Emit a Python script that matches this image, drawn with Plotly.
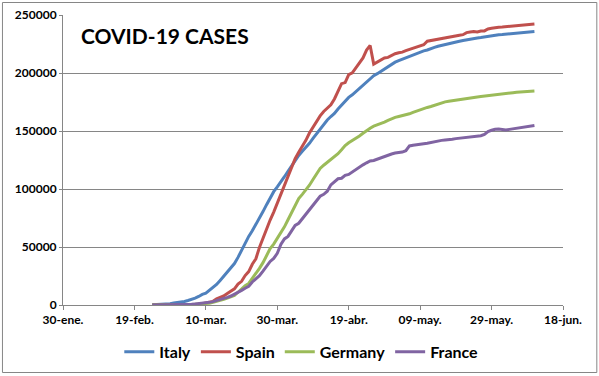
import pandas as pd
import plotly.graph_objects as go

# ---- data -------------------------------------------------------------
dates = pd.date_range("2020-02-24", "2020-06-10", freq="D")

italy = [229, 322, 400, 650, 888, 1128,
         1694, 2036, 2502, 3089, 3858, 4636, 5883, 7375, 9172, 10149, 12462, 15113, 17660, 21157,
         24747, 27980, 31506, 35713, 41035, 47021, 53578, 59138, 63927, 69176, 74386, 80539, 86498,
         92472, 97689, 101739, 105792,
         110574, 115242, 119827, 124632, 128948, 132547, 135586, 139422, 143626, 147577, 152271,
         156363, 159516, 162488, 165155, 168941, 172434, 175925, 178972, 181228, 183957, 187327,
         189973, 192994, 195351, 197675, 199414, 201505, 203591, 205463,
         207428, 209328, 210717, 211938, 213013, 214457, 215858, 217185, 218268, 219070, 219814,
         221216, 222104, 223096, 223885, 224760, 225435, 225886, 226699, 227364, 228006, 228658,
         229327, 229858, 230158, 230555, 231139, 231732, 232248, 232664, 233019,
         233197, 233515, 233836, 234013, 234531, 234801, 234998, 235278, 235561, 235763]

spain = [2, 6, 13, 15, 32, 45,
         84, 120, 165, 222, 259, 400, 500, 673, 1073, 1695, 2277, 3146, 5232, 6391, 7798, 9942,
         11748, 13910, 17963, 20410, 25374, 28768, 35136, 39885, 49515, 57786, 65719, 73235, 80110,
         87956, 95923,
         104118, 112065, 119199, 126168, 131646, 136675, 141942, 148220, 153222, 158273, 163027,
         166831, 170099, 172541, 177644, 184948, 190839, 191726, 198674, 200210, 204178, 208389,
         213024, 219764, 223759, 207634, 209465, 210773, 212917, 213435,
         215216, 216582, 217466, 218011, 219329, 220325, 221447, 222857, 223578, 224350, 227436,
         228030, 228691, 229540, 230183, 230698, 230698, 231606, 232037, 232555, 233037, 234824,
         235290, 235772, 235400, 236259, 236259, 237906, 238564, 239228, 239479,
         239638, 239932, 240326, 240660, 240978, 241310, 241550, 241717, 241966, 242280]

germany = [16, 18, 21, 26, 53, 66,
           117, 150, 188, 240, 349, 534, 684, 847, 1112, 1296, 1567, 2369, 3062, 3795, 4838, 6012,
           7156, 8198, 10999, 13957, 16662, 18610, 22672, 27436, 31554, 36508, 42288, 48582, 52547,
           57298, 61913,
           67366, 73522, 79696, 85778, 91714, 95391, 99225, 103228, 108202, 113525, 117658, 120479,
           123016, 125098, 127584, 130450, 133830, 137439, 139897, 141672, 143457, 145694, 148046,
           150383, 152438, 154175, 155193, 156337, 157641, 159119,
           160758, 161703, 162496, 163160, 163860, 164807, 166091, 167300, 168551, 169400, 170300,
           171100, 172200, 173200, 174300, 175100, 175700, 176200, 176700, 177300, 177900, 178300,
           178700, 179100, 179400, 179700, 180000, 180400, 180900, 181400, 181700,
           182000, 182300, 182600, 183000, 183400, 183700, 183900, 184100, 184300, 184500]

france = [12, 12, 18, 38, 57, 100,
          130, 191, 212, 285, 423, 653, 949, 1126, 1412, 1784, 2281, 2876, 3661, 4499, 5423, 6633,
          7730, 9134, 10995, 12612, 14459, 16018, 19856, 22302, 25233, 29155, 32964, 37575, 40174,
          44550, 52128,
          56989, 59105, 64338, 68605, 70478, 74390, 78167, 82048, 86334, 90276, 93790, 95403, 98076,
          103573, 106206, 108847, 109252, 111821, 112606, 114657, 117324, 119151, 120804, 122577,
          124114, 124575, 125770, 126835, 128442, 129581,
          130185, 130979, 131287, 131863, 132967, 137150, 137779, 138421, 138854, 139063, 139519,
          140227, 140734, 141356, 141919, 142291, 142411, 142903, 143427, 143845, 144163, 144556,
          144921, 145279, 145555, 145900, 147000, 149500, 150600, 151500, 151700,
          151300, 150900, 151400, 151900, 152300, 152900, 153400, 153900, 154400, 154800]

series_names = ["Italy", "Spain", "Germany", "France"]
series_values = [italy, spain, germany, france]
series_colors = ["#4F81BD", "#C0504D", "#9BBB59", "#8064A2"]

x_tick_dates = ["2020-01-30", "2020-02-19", "2020-03-10", "2020-03-30",
                "2020-04-19", "2020-05-09", "2020-05-29", "2020-06-18"]
x_tick_labels = ["30-ene.", "19-feb.", "10-mar.", "30-mar.",
                 "19-abr.", "09-may.", "29-may.", "18-jun."]
y_tick_vals = [0, 50000, 100000, 150000, 200000, 250000]
y_tick_labels = ["0", "50000", "100000", "150000", "200000", "250000"]

# ---- figure -------------------------------------------------------------
FONT = "Lato"
GRID = "#868686"

fig = go.Figure()
for name, vals, col in zip(series_names, series_values, series_colors):
    fig.add_trace(go.Scatter(x=dates, y=vals, name=name, mode="lines",
                             line=dict(color=col, width=3)))

fig.update_layout(
    width=599, height=376,
    margin=dict(l=63, r=36, t=15, b=71, autoexpand=False),
    paper_bgcolor="white", plot_bgcolor="white",
    font=dict(family=FONT, size=12, color="#000000", weight="bold"),
    showlegend=True,
    legend=dict(orientation="h", xref="container", yref="container",
                x=0.503, xanchor="center", y=0.064, yanchor="middle",
                font=dict(family=FONT, size=16, color="#000000", weight="bold"),
                itemwidth=30, tracegroupgap=0, bgcolor="rgba(0,0,0,0)"),
    xaxis=dict(type="date", range=["2020-01-30", "2020-06-18"],
               tickvals=x_tick_dates, ticktext=x_tick_labels,
               showgrid=False, showline=True, linecolor=GRID, linewidth=1,
               ticks="outside", ticklen=4, tickcolor=GRID, tickwidth=1,
               tickfont=dict(family=FONT, size=12, color="#000000", weight="bold"),
               zeroline=False, fixedrange=True),
    yaxis=dict(range=[0, 250000], tickvals=y_tick_vals, ticktext=y_tick_labels,
               showgrid=True, gridcolor=GRID, gridwidth=1,
               showline=True, linecolor=GRID, linewidth=1,
               ticks="outside", ticklen=3, tickcolor=GRID, tickwidth=1,
               tickfont=dict(family=FONT, size=12, color="#000000", weight="bold"),
               zeroline=False, fixedrange=True),
)

# chart title inside plot area
fig.add_annotation(text="COVID-19 CASES", xref="paper", yref="paper",
                   x=0.031, y=0.93, xanchor="left", yanchor="middle", showarrow=False,
                   font=dict(family=FONT, size=21, color="#000000", weight="bold"))

# outer chart border
fig.add_shape(type="rect", xref="paper", yref="paper",
              x0=(2.5 - 63) / 499.7, x1=(596.5 - 63) / 499.7,
              y0=(305 - 372.5) / 290, y1=(305 - 2.5) / 290,
              line=dict(color=GRID, width=1), fillcolor="rgba(0,0,0,0)", layer="below")

fig.write_html("out.html",
               config={"displayModeBar": False, "staticPlot": True},
               post_script="document.body.style.margin='0';document.body.style.padding='0';")
